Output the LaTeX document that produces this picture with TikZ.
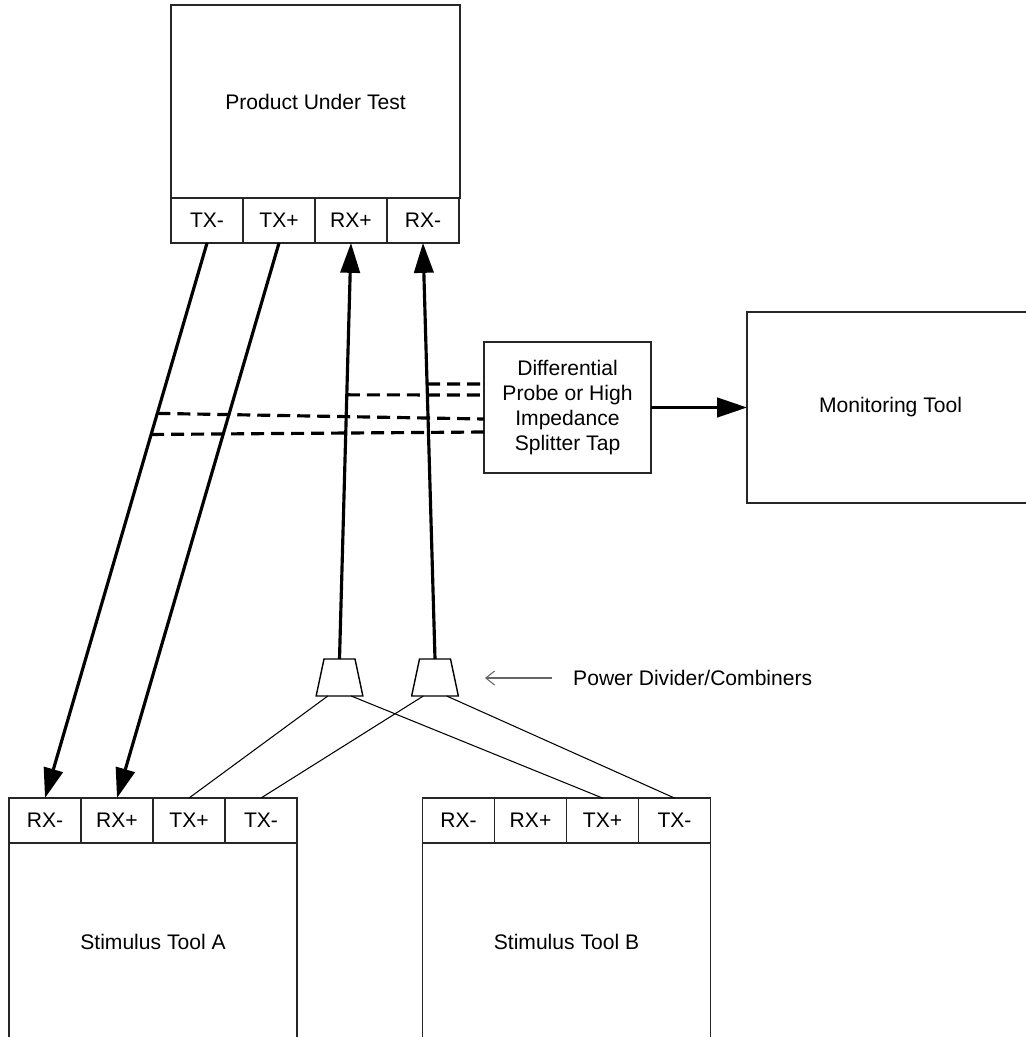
\documentclass[tikz,border=0pt]{standalone}
\usepackage{fontspec}
\setmainfont{Liberation Sans}
\usetikzlibrary{shapes.geometric, arrows.meta, positioning, calc}

\begin{document}
\begin{tikzpicture}[
  x=0.02cm, y=-0.02cm,
  font=\fontsize{12}{14.2}\selectfont,
  unit/.style={rectangle, draw=black!85, line width=0.9pt, outer sep=0pt, align=center},
  port/.style={rectangle, draw=black!85, line width=0.9pt, outer sep=0pt,
               minimum width=1.44cm, minimum height=0.9cm, inner sep=0pt},
  divider/.style={trapezium, draw, line width=0.8pt, trapezium left angle=78, trapezium right angle=78,
                  text width=0.62cm, text height=0.74cm, text depth=0pt, inner sep=0pt, outer sep=0pt},
  link/.style={-{Triangle[length=17pt, width=11pt]}, line width=1.8pt},
  tap/.style={line width=1.8pt, dash pattern=on 0.26cm off 0.14cm},
  wire/.style={line width=0.6pt}
]
\useasboundingbox (0,0) rectangle (1026,1037);

% product under test
\node[unit, minimum width=5.78cm, minimum height=3.86cm] (put) at (315.5,101.5) {Product Under Test};
\node[port, anchor=north west] (puttxm) at (put.south west) {TX-};
\node[port, right=0pt of puttxm] (puttxp) {TX+};
\node[port, right=0pt of puttxp] (putrxp) {RX+};
\node[port, right=0pt of putrxp] (putrxm) {RX-};

% probe and monitor
\node[unit, minimum width=3.34cm, minimum height=2.62cm] (probe) at (567.5,407.5)
  {Differential\\Probe or High\\Impedance\\Splitter Tap};
\node[unit, minimum width=5.74cm, minimum height=3.82cm] (monitor) at (890.5,407.5) {Monitoring Tool};

% stimulus tools
\node[unit, minimum width=5.76cm, minimum height=3.96cm] (sta) at (153,942) {Stimulus Tool A};
\node[port, anchor=south west] (starxm) at (sta.north west) {RX-};
\node[port, right=0pt of starxm] (starxp) {RX+};
\node[port, right=0pt of starxp] (statxp) {TX+};
\node[port, right=0pt of statxp] (statxm) {TX-};

\node[unit, minimum width=5.76cm, minimum height=3.96cm] (stb) at (566.5,942) {Stimulus Tool B};
\node[port, anchor=south west] (stbrxm) at (stb.north west) {RX-};
\node[port, right=0pt of stbrxm] (stbrxp) {RX+};
\node[port, right=0pt of stbrxp] (stbtxp) {TX+};
\node[port, right=0pt of stbtxp] (stbtxm) {TX-};

% power dividers
\node[divider] (dl) at (339.5,677.5) {};
\node[divider] (dr) at (435,677.5) {};

\node[anchor=west] (pdlabel) at (567,678) {Power Divider/Combiners};
\coordinate (pdtip) at (485,678);
\draw[-{Straight Barb[length=5pt, width=8pt]}, black!60, line width=0.6pt] ([xshift=-0.3cm]pdlabel.west) -- (pdtip);

% links
\draw[link] (puttxm.south) -- coordinate[pos=0.307] (tapc) coordinate[pos=0.345] (tapd) (starxm.north);
\draw[link] (puttxp.south) -- (starxp.north);
\draw[link] (dl.north) -- coordinate[pos=0.635] (tapb) (putrxp.south);
\draw[link] (dr.north) -- coordinate[pos=0.661] (tapa) (putrxm.south);
\draw[link] (probe.east) -- (monitor.west);

% taps
\draw[tap] (tapa) -- ([yshift=0.47cm]probe.west);
\draw[tap] (tapb) -- ([yshift=0.25cm]probe.west);
\draw[tap] (tapc) -- ([yshift=-0.23cm]probe.west);
\draw[tap] (tapd) -- ([yshift=-0.49cm]probe.west);

% divider wires
\draw[wire] ($(dl.south)!0.5!(dl.bottom left corner)$) -- (statxp.north);
\draw[wire] ($(dl.south)!0.5!(dl.bottom right corner)$) -- (stbtxp.north);
\draw[wire] ($(dr.south)!0.5!(dr.bottom left corner)$) -- (statxm.north);
\draw[wire] ($(dr.south)!0.5!(dr.bottom right corner)$) -- (stbtxm.north);
\end{tikzpicture}
\end{document}
